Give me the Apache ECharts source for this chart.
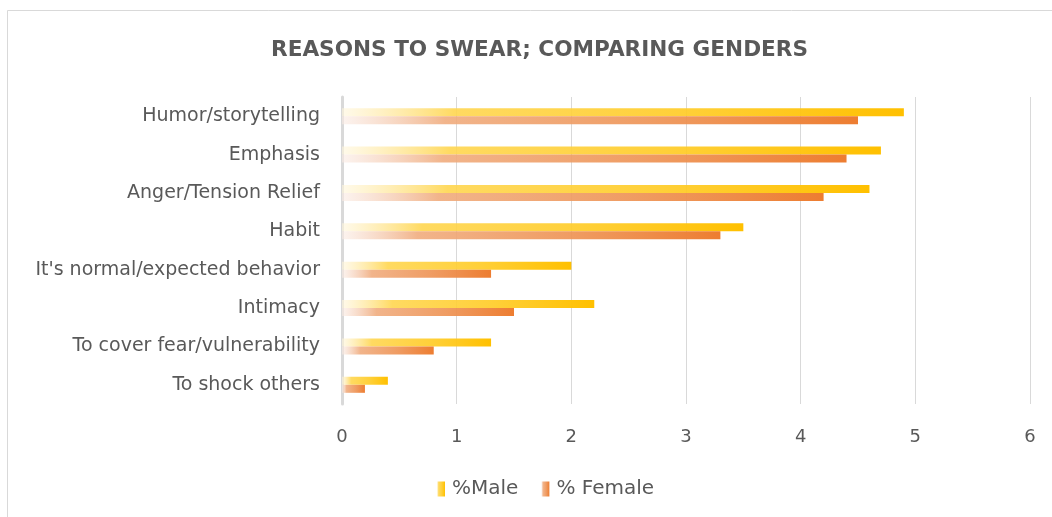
<!DOCTYPE html>
<html>
<head>
<meta charset="utf-8">
<script src="https://cdn.jsdelivr.net/npm/echarts@6/dist/echarts.min.js"></script>
<style>
html,body{margin:0;padding:0;background:#fff;}
#c{width:1052px;height:517px;}
</style>
</head>
<body>
<div id="c"></div>
<script>
var categories = ["Humor/storytelling","Emphasis","Anger/Tension Relief","Habit","It's normal/expected behavior","Intimacy","To cover fear/vulnerability","To shock others"];
var maleValues = [4.9, 4.7, 4.6, 3.5, 2.0, 2.2, 1.3, 0.4];
var femaleValues = [4.5, 4.4, 4.2, 3.3, 1.3, 1.5, 0.8, 0.2];
var xTicks = [0, 1, 2, 3, 4, 5, 6];
var seriesNames = ["%Male", "% Female"];

function grad(stops){
  return new echarts.graphic.LinearGradient(0,0,1,0, stops.map(function(s){return {offset:s[0], color:s[1]};}));
}
var maleGrad = grad([[0,'rgba(255,246,220,0.6)'],[0.2,'rgba(255,214,80,0.9)'],[0.6,'rgba(255,204,40,0.92)'],[1,'rgba(255,192,0,1)']]);
var femaleGrad = grad([[0,'rgba(250,235,228,0.6)'],[0.2,'rgba(240,172,126,0.9)'],[0.6,'rgba(238,148,86,0.92)'],[1,'rgba(237,125,49,1)']]);

var chart = echarts.init(document.getElementById('c'), null, {renderer:'canvas'});
var font = "'DejaVu Sans', sans-serif";
chart.setOption({
  animation:false,
  backgroundColor:'#ffffff',
  textStyle:{fontFamily:font},
  graphic:[{type:'rect', shape:{x:7.5,y:10.5,width:1100,height:600}, style:{fill:'none', stroke:'#d9d9d9', lineWidth:1}, silent:true}],
  title:{
    text:'REASONS TO SWEAR; COMPARING GENDERS',
    left:266, top:34,
    textStyle:{fontFamily:font, fontSize:21.6, fontWeight:'bold', color:'#595959'}
  },
  legend:{
    bottom:13, left:432,
    itemWidth:8, itemHeight:15, itemGap:23, icon:'rect',
    textStyle:{fontFamily:font, fontSize:20, color:'#595959', padding:[0,0,0,2]},
    data:seriesNames
  },
  grid:{left:342, right:22, top:97, bottom:113, containLabel:false},
  xAxis:{
    type:'value', min:0, max:6, interval:1,
    axisLine:{show:false}, axisTick:{show:false},
    splitLine:{lineStyle:{color:'#d9d9d9', width:1}},
    axisLabel:{fontFamily:font, fontSize:18, color:'#595959', margin:24,
      formatter:function(v){return xTicks.indexOf(v)>=0 ? String(v) : '';}}
  },
  yAxis:{
    type:'category', data:categories, inverse:true,
    axisLine:{show:true, lineStyle:{color:'#d9d9d9', width:3}},
    axisTick:{show:false},
    axisLabel:{fontFamily:font, fontSize:19, color:'#595959', margin:22}
  },
  series:[
    {name:seriesNames[0], type:'bar', data:maleValues, barWidth:8, barGap:'0%', itemStyle:{color:maleGrad}},
    {name:seriesNames[1], type:'bar', data:femaleValues, barWidth:8, barGap:'0%', itemStyle:{color:femaleGrad}}
  ]
});
</script>
</body>
</html>
